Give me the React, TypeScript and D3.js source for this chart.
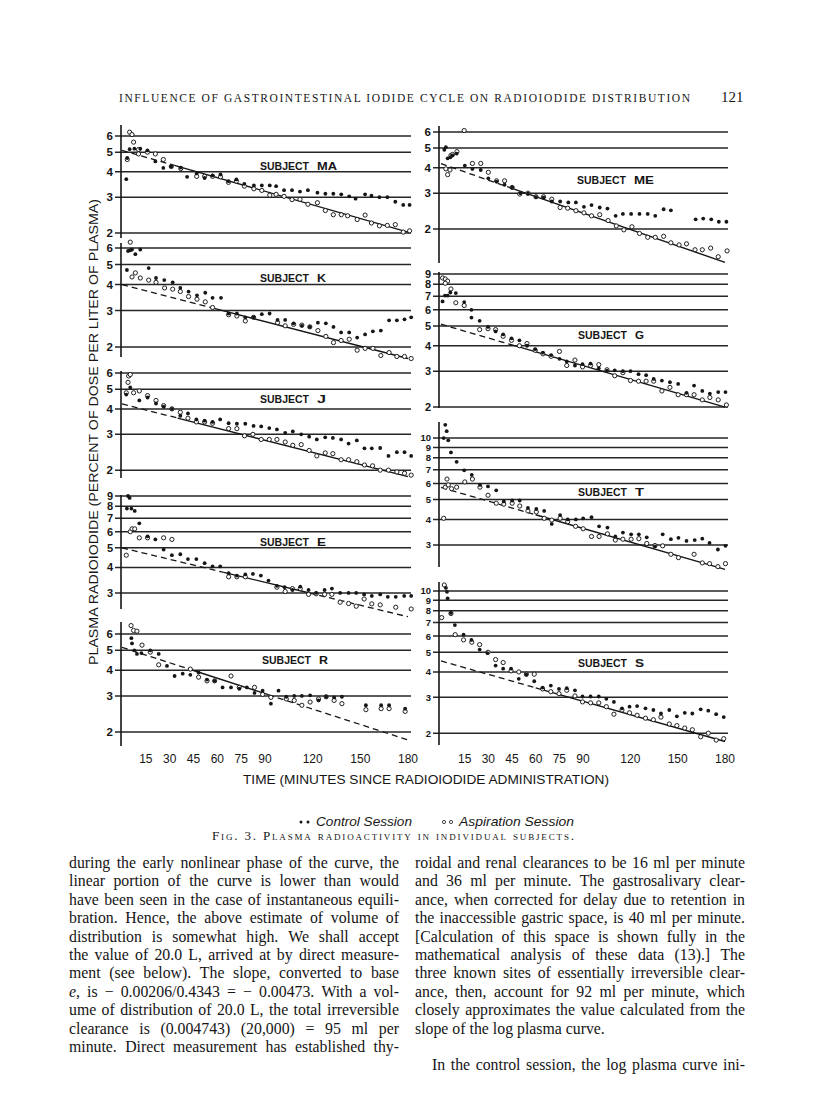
import React, { useEffect, useRef } from "react";
import * as d3 from "d3";

type Pt = [number, number];

// ---------- x axis ----------
const xTickValues = [15, 30, 45, 60, 75, 90, 120, 150, 180];

// ---------- Subject MA ----------
const MA_yDomain = [1.89, 6.8];
const MA_yTicks = [2, 3, 4, 5, 6];
const MA_control: Pt[] = [
  [2.7, 3.68], [3.3, 4.68], [4.8, 5.17], [7.8, 5.2], [11.5, 5.2], [16, 5.1], [21, 4.5], [26, 4.18], [31, 4.25], [37, 4.2],
  [41, 3.78], [47, 3.93], [52, 3.73], [57, 3.84], [62, 3.88], [67, 3.6], [72, 3.67], [77, 3.49], [83, 3.43], [88, 3.43],
  [93, 3.43], [97, 3.4], [102, 3.25], [107, 3.25], [112, 3.2], [117, 3.25], [123, 3.16], [128, 3.12], [133, 3.12], [138, 3.1],
  [143, 3.03], [147, 2.95], [153, 3.1], [157, 3.05], [162, 3.0], [167, 3.0], [172, 2.85], [177, 2.75], [181, 2.75],
];
const MA_aspiration: Pt[] = [
  [4.8, 6.27], [6.3, 6.1], [7.3, 5.6], [3.3, 4.6], [10.4, 5.15], [10.4, 4.9], [16, 5.0], [21, 4.9], [26, 4.6], [31, 4.25],
  [37, 4.15], [47, 3.8], [52, 3.8], [57, 3.8], [62, 3.78], [67, 3.55], [72, 3.6], [77, 3.4], [83, 3.3], [88, 3.24],
  [93, 3.07], [97, 3.1], [102, 3.03], [107, 2.92], [112, 2.93], [117, 2.77], [123, 2.82], [128, 2.58], [133, 2.46], [138, 2.46],
  [142, 2.43], [148, 2.33], [153, 2.45], [157, 2.24], [162, 2.17], [167, 2.18], [172, 2.2], [177, 2.02], [181, 2.05],
];
const MA_fit = { start: 5.1, end: 2.02, dashed: [[0, 33]], solid: [[33, 180]] };

// ---------- Subject K ----------
const K_yDomain = [1.79, 6.34];
const K_yTicks = [2, 3, 4, 5, 6];
const K_control: Pt[] = [
  [3.8, 5.8], [5.2, 5.85], [6.3, 5.9], [8.4, 5.6], [11.5, 5.9], [3.1, 4.7], [16.8, 4.8], [21.4, 4.3], [26.6, 4.2], [31.9, 4.1],
  [36.7, 3.85], [41.9, 3.7], [47.2, 3.55], [52.4, 3.65], [57, 3.45], [62.3, 3.45], [67.1, 2.9], [72.3, 2.9], [77.6, 2.78], [82.8, 2.78],
  [88, 2.88], [92.9, 2.9], [97.9, 2.7], [102.7, 2.7], [108, 2.6], [113.2, 2.53], [118.2, 2.5], [123.3, 2.62], [128.3, 2.6], [133.1, 2.5],
  [137.9, 2.35], [143, 2.35], [148, 2.22], [153, 2.3], [157.9, 2.38], [162.9, 2.4], [168.1, 2.69], [173, 2.69], [177.8, 2.72], [182, 2.78],
];
const K_aspiration: Pt[] = [
  [5.2, 6.4], [6.3, 4.35], [8.4, 4.55], [11.5, 4.3], [16.8, 4.2], [21.4, 4.1], [26.8, 3.85], [31.9, 3.8], [36.7, 3.7], [41.9, 3.5],
  [47.2, 3.4], [52.4, 3.3], [57, 3.1], [67.1, 2.86], [72.3, 2.82], [77.6, 2.67], [82.8, 2.78], [97.9, 2.62], [102.7, 2.53], [108, 2.57],
  [113.2, 2.55], [118.2, 2.5], [123.3, 2.4], [128.3, 2.25], [133.1, 2.1], [137.9, 2.15], [143, 2.18], [148, 1.93], [153, 1.97], [157.9, 1.97],
  [162.9, 1.82], [168.1, 1.88], [173, 1.8], [177.8, 1.8], [182, 1.76],
];
const K_fit = { start: 4.0, end: 1.76, dashed: [[0, 55]], solid: [[55, 180]] };

// ---------- Subject J ----------
const J_yDomain = [1.83, 6.14];
const J_yTicks = [2, 3, 4, 5, 6];
const J_control: Pt[] = [
  [2.7, 4.7], [5.2, 5.1], [10.9, 4.4], [16.1, 4.55], [21.4, 4.25], [26.2, 4.1], [31.4, 4.0], [36.7, 3.7], [41.5, 3.8], [46.8, 3.55],
  [52, 3.5], [57, 3.45], [61.8, 3.55], [67.1, 3.4], [72.3, 3.38], [77.6, 3.38], [82.8, 3.3], [87.6, 3.28], [92.7, 3.22], [97.5, 3.17],
  [102.7, 3.05], [107.5, 3.1], [112.8, 3.0], [117.8, 2.92], [122.6, 2.83], [127.9, 2.9], [132.7, 2.88], [137.9, 2.83], [142.6, 2.7], [147.8, 2.8],
  [152.6, 2.56], [157.2, 2.56], [162.5, 2.57], [167.7, 2.35], [173, 2.45], [177.8, 2.45], [182, 2.35],
];
const J_aspiration: Pt[] = [
  [4.2, 5.8], [5.2, 5.9], [3.8, 5.4], [2.7, 4.8], [7.3, 4.8], [10.9, 4.9], [16.1, 4.65], [21.4, 4.4], [26.2, 4.15], [31.4, 4.0],
  [36.7, 3.85], [41.5, 3.6], [46.8, 3.45], [52, 3.45], [57, 3.4], [67.1, 3.2], [72.3, 3.2], [77.1, 2.95], [82.4, 3.0], [87.6, 2.83],
  [92.7, 2.83], [97.5, 2.83], [102.7, 2.75], [107.5, 2.65], [112.8, 2.67], [117.8, 2.5], [122.6, 2.35], [127.9, 2.43], [132.7, 2.41], [137.9, 2.25],
  [142.6, 2.25], [147.8, 2.2], [152.6, 2.12], [157.7, 2.1], [162.5, 2.0], [167.7, 2.0], [173, 1.96], [177.8, 1.93], [182, 1.89],
];
const J_fit = { start: 4.23, end: 1.86, dashed: [[0, 35]], solid: [[35, 180]] };

// ---------- Subject E ----------
const E_yDomain = [2.5, 9.1];
const E_yTicks = [3, 4, 5, 6, 7, 8, 9];
const E_control: Pt[] = [
  [3.8, 9.0], [4.8, 8.8], [3.1, 7.8], [5.9, 7.8], [8, 7.6], [10.9, 6.6], [16.1, 5.7], [21, 5.5], [26.2, 4.9], [31.4, 4.6],
  [36.7, 4.65], [41.5, 4.4], [46.8, 4.4], [52, 4.2], [57, 4.05], [61.8, 4.05], [67.1, 3.75], [72.3, 3.65], [77.6, 3.7], [82.4, 3.72],
  [87.4, 3.65], [92.2, 3.45], [97.5, 3.25], [102.3, 3.2], [107.3, 3.1], [112.2, 3.22], [117.4, 3.1], [122.2, 3.0], [127.5, 3.1], [132.1, 3.15],
  [137.3, 3.0], [142.6, 3.0], [147.4, 3.0], [152.4, 2.95], [157.2, 2.9], [162.5, 2.95], [167.3, 2.87], [172.3, 2.87], [177.6, 2.9], [182, 2.9],
];
const E_aspiration: Pt[] = [
  [2.7, 4.6], [5.2, 6.0], [6.3, 6.2], [8, 6.2], [10.9, 5.6], [16.1, 5.6], [26.2, 5.6], [31.4, 5.5], [67.1, 3.6], [72.3, 3.6],
  [77.6, 3.6], [97.5, 3.2], [102.7, 3.05], [107.3, 3.15], [112.2, 3.15], [117.4, 2.95], [122.2, 2.97], [127.5, 2.95], [132.1, 2.95], [137.3, 2.7],
  [142.6, 2.66], [147.4, 2.58], [152.4, 2.8], [157.2, 2.65], [162.5, 2.62], [172.3, 2.55], [182, 2.5],
];
const E_fit = { start: 5.0, end: 2.29, dashed: [[0, 64], [118, 180]], solid: [[64, 118]] };

// ---------- Subject R ----------
const R_yDomain = [1.71, 6.87];
const R_yTicks = [2, 3, 4, 5, 6];
const R_control: Pt[] = [
  [5.9, 5.73], [6.3, 5.4], [7.8, 5.0], [9.4, 4.8], [12.2, 4.85], [17.8, 5.0], [23.1, 4.8], [28.3, 4.2], [33.1, 3.75], [38.2, 3.85],
  [43, 3.8], [48.2, 3.9], [53.5, 3.6], [58.3, 3.55], [63.3, 3.3], [68.6, 3.3], [73.8, 3.25], [78.6, 3.3], [83.4, 3.1], [88.5, 3.18],
  [93.7, 2.75], [98.5, 3.18], [103.4, 2.97], [108.4, 3.0], [113.2, 3.0], [118.4, 3.02], [123.7, 2.85], [128.5, 2.97], [133.5, 2.95], [138.4, 2.97],
  [153.5, 2.7], [163.1, 2.7], [168.1, 2.7], [178.2, 2.6],
];
const R_aspiration: Pt[] = [
  [5.7, 6.6], [7.3, 6.25], [9.4, 6.2], [12.6, 5.3], [17.8, 4.9], [23.1, 4.25], [43, 4.05], [48.2, 3.7], [53.5, 3.55], [58.3, 3.55],
  [68.6, 3.75], [73.8, 3.3], [83.4, 3.3], [88.5, 3.05], [93.7, 2.95], [103.4, 2.9], [108.4, 2.85], [113.2, 2.7], [118.4, 2.8], [123.7, 2.9],
  [128.5, 2.97], [133.5, 2.85], [138.4, 2.75], [153.5, 2.57], [163.1, 2.6], [168.1, 2.6], [178.2, 2.52],
];
const R_fit = { start: 5.17, end: 1.83, dashed: [[0, 45], [92, 180]], solid: [[45, 92]] };

// ---------- Subject ME ----------
const ME_yDomain = [1.36, 6.42];
const ME_yTicks = [2, 3, 4, 5, 6];
const ME_control: Pt[] = [
  [2.1, 4.9], [3.1, 5.05], [4.2, 4.45], [5.9, 4.5], [7.3, 4.6], [9.9, 4.7], [15.1, 4.1], [19.9, 3.95], [25.2, 3.9], [30, 3.55],
  [35.2, 3.42], [40.3, 3.3], [45.1, 3.2], [50.3, 3.0], [55.1, 2.98], [60.2, 2.87], [65, 2.85], [70.2, 2.73], [75.5, 2.73], [80.7, 2.7],
  [85.5, 2.7], [90.6, 2.57], [95.4, 2.62], [100.6, 2.55], [105.5, 2.52], [110.7, 2.32], [115.3, 2.37], [120.5, 2.37], [125.8, 2.37], [131, 2.37],
  [135.8, 2.32], [141.1, 2.5], [145.7, 2.47], [161.4, 2.23], [166.2, 2.25], [171.3, 2.23], [176.1, 2.17], [180.9, 2.17],
];
const ME_aspiration: Pt[] = [
  [14.7, 6.1], [3.1, 3.95], [4.2, 3.7], [5.7, 3.9], [6.3, 4.6], [7.3, 4.65], [10.1, 4.8], [19.9, 4.2], [25.2, 4.2], [30, 3.8],
  [35.2, 3.45], [40.3, 3.45], [45.1, 3.2], [49.9, 2.97], [55.1, 3.0], [60.2, 2.88], [65, 2.88], [70.2, 2.8], [75.5, 2.55], [80.3, 2.53],
  [85.5, 2.46], [90.6, 2.4], [95.4, 2.32], [100.6, 2.35], [105.9, 2.2], [111.1, 2.07], [115.9, 1.98], [121, 2.05], [125.8, 1.9], [131, 1.82],
  [135.8, 1.82], [141.1, 1.84], [145.7, 1.71], [150.9, 1.67], [155.6, 1.69], [161, 1.58], [165.6, 1.58], [170.9, 1.61], [175.7, 1.46], [181.3, 1.56],
];
const ME_fit = { start: 4.19, end: 1.37, dashed: [[0, 45]], solid: [[45, 180]] };

// ---------- Subject G ----------
const G_yDomain = [1.98, 9.2];
const G_yTicks = [2, 3, 4, 5, 6, 7, 8, 9];
const G_control: Pt[] = [
  [1, 6.6], [2.5, 7.05], [4.2, 7.05], [5.9, 7.3], [9.4, 7.25], [14.7, 6.55], [19.3, 6.0], [19.3, 5.5], [24.5, 5.3], [29.8, 4.95],
  [34.6, 4.7], [39.4, 4.55], [44.7, 4.35], [49.7, 4.25], [54.5, 4.0], [59.7, 3.85], [64.6, 3.7], [69.8, 3.6], [75.1, 3.45], [79.7, 3.35],
  [84.9, 3.2], [89.7, 3.25], [94.8, 3.27], [100, 3.1], [105.2, 3.02], [110.1, 3.03], [115.3, 3.0], [120.1, 3.0], [125.2, 2.9], [130, 2.87],
  [134.8, 2.75], [140, 2.7], [145.1, 2.65], [150.3, 2.6], [155.6, 2.35], [160.4, 2.55], [165.6, 2.4], [170.4, 2.33], [175.7, 2.37], [180.3, 2.37],
];
const G_aspiration: Pt[] = [
  [1, 8.6], [2.7, 8.5], [4.2, 8.3], [2.7, 8.1], [6.3, 7.6], [9.4, 6.5], [14.7, 6.3], [24.5, 4.8], [29.8, 4.85], [34.6, 4.8],
  [39.4, 4.45], [44.7, 4.25], [49.7, 4.0], [54.5, 4.1], [59.7, 3.8], [64.6, 3.65], [69.8, 3.55], [75.1, 3.75], [79.7, 3.2], [84.9, 3.4],
  [89.7, 3.15], [94.8, 3.2], [100, 3.23], [105.2, 3.05], [110.1, 2.85], [115.3, 2.95], [120.1, 2.7], [125.2, 2.68], [130, 2.68], [134.8, 2.68],
  [140, 2.4], [145.1, 2.5], [150.3, 2.3], [155.6, 2.3], [160.4, 2.3], [165.6, 2.17], [170.4, 2.23], [175.7, 2.17], [180.9, 2.05],
];
const G_fit = { start: 5.1, end: 2.0, dashed: [[0, 45]], solid: [[45, 180]] };

// ---------- Subject T ----------
const T_yDomain = [2.34, 11.98];
const T_yTicks = [3, 4, 5, 6, 7, 8, 9, 10];
const T_control: Pt[] = [
  [2.7, 11.6], [3.6, 10.8], [1.7, 10.0], [4.6, 9.75], [6.3, 8.5], [9.9, 7.65], [14.7, 6.95], [19.5, 6.6], [24.7, 5.9], [29.8, 5.8],
  [35, 5.55], [39.8, 4.9], [45.1, 4.95], [49.9, 4.95], [55.1, 4.55], [60.4, 4.5], [65.4, 4.4], [70.2, 3.8], [75.5, 4.2], [80.3, 4.0],
  [85.5, 4.0], [90.1, 4.05], [95.4, 4.1], [100.2, 3.7], [105.5, 3.65], [110.5, 3.3], [115.3, 3.45], [120.5, 3.38], [125.4, 3.38], [130.4, 3.27],
  [135.6, 2.95], [140.5, 3.38], [145.7, 3.2], [150.5, 3.25], [155.6, 3.14], [160.8, 3.17], [165.6, 3.22], [170.2, 3.07], [175.5, 2.85], [180.3, 2.97],
];
const T_aspiration: Pt[] = [
  [1.7, 4.05], [3.8, 6.3], [2.7, 5.75], [4.6, 5.9], [6.7, 5.65], [9.9, 5.75], [15.1, 6.1], [19.9, 6.3], [24.7, 5.75], [29.8, 5.25],
  [35, 4.8], [39.8, 4.75], [45.1, 4.8], [49.9, 4.65], [55.1, 4.4], [60.4, 4.35], [65.4, 4.05], [70.2, 3.97], [75.5, 4.05], [80.3, 3.9],
  [85.3, 3.7], [90.1, 3.6], [95.4, 3.3], [100.2, 3.3], [105.5, 3.4], [110.5, 3.17], [115.3, 3.2], [120.5, 3.2], [125.4, 3.22], [130.4, 3.05],
  [135.6, 2.98], [140.5, 2.97], [145.7, 2.7], [150.5, 2.6], [160.4, 2.7], [165.6, 2.45], [170.2, 2.43], [175.5, 2.35], [180.3, 2.43],
];
const T_fit = { start: 5.73, end: 2.28, dashed: [[0, 60]], solid: [[60, 180]] };

// ---------- Subject S ----------
const S_yDomain = [1.75, 11.07];
const S_yTicks = [2, 3, 4, 5, 6, 7, 8, 9, 10];
const S_control: Pt[] = [
  [3.1, 10.35], [3.8, 9.9], [4.2, 9.2], [6.3, 7.8], [8.8, 6.8], [14.3, 6.1], [19.3, 5.75], [24.5, 5.15], [29.4, 4.95], [34.6, 4.3],
  [39.4, 4.15], [44.4, 4.15], [49.3, 3.7], [54.1, 3.88], [59.1, 3.6], [64.4, 3.35], [69.6, 3.43], [74.8, 3.3], [79.7, 3.33], [84.9, 3.25],
  [89.7, 3.03], [94.8, 3.03], [100, 3.03], [104.8, 2.95], [109.6, 2.85], [114.7, 2.65], [119.5, 2.7], [124.3, 2.72], [129.6, 2.65], [134.6, 2.6],
  [139.4, 2.5], [144.7, 2.6], [149.5, 2.42], [154.5, 2.52], [159.3, 2.5], [164.6, 2.62], [169.4, 2.58], [174.4, 2.48], [179.2, 2.4],
];
const S_aspiration: Pt[] = [
  [2.1, 10.7], [0.4, 7.4], [6.3, 7.75], [9, 6.1], [14.3, 5.75], [19.5, 5.6], [24.5, 5.45], [29.8, 5.0], [34.6, 4.6], [39.4, 4.45],
  [44.4, 4.05], [49.3, 4.0], [54.1, 3.9], [59.1, 3.9], [64.4, 3.3], [69.6, 3.2], [74.8, 3.13], [79.7, 3.25], [84.9, 3.05], [89.7, 2.85],
  [94.8, 2.82], [100, 2.82], [104.8, 2.7], [109.6, 2.48], [114.7, 2.6], [119.5, 2.52], [124.3, 2.45], [129.6, 2.37], [134.6, 2.33], [139.4, 2.4],
  [144.7, 2.22], [149.5, 2.18], [154.5, 2.12], [159.3, 2.08], [164.6, 1.92], [169.4, 2.0], [174.4, 1.85], [179.2, 1.88],
];
const S_fit = { start: 4.53, end: 1.82, dashed: [[0, 60]], solid: [[60, 180]] };

// ---------- text ----------
const headerText = "INFLUENCE OF GASTROINTESTINAL IODIDE CYCLE ON RADIOIODIDE DISTRIBUTION";
const pageNumber = "121";
const yTitle = "PLASMA RADIOIODIDE (PERCENT OF DOSE PER LITER OF PLASMA)";
const xTitle = "TIME (MINUTES SINCE RADIOIODIDE ADMINISTRATION)";
const legendLabels = ["Control Session", "Aspiration Session"];
const captionText = "Fig. 3.  Plasma radioactivity in individual subjects.";

const bodyLeft = [
  "during the early nonlinear phase of the curve, the",
  "linear portion of the curve is lower than would",
  "have been seen in the case of instantaneous equili-",
  "bration. Hence, the above estimate of volume of",
  "distribution is somewhat high. We shall accept",
  "the value of 20.0 L, arrived at by direct measure-",
  "ment (see below). The slope, converted to base",
  "_e, is − 0.00206/0.4343 = − 0.00473. With a vol-",
  "ume of distribution of 20.0 L, the total irreversible",
  "clearance is (0.004743) (20,000) = 95 ml per",
  "minute. Direct measurement has established thy-",
];
const bodyRight = [
  "roidal and renal clearances to be 16 ml per minute",
  "and 36 ml per minute. The gastrosalivary clear-",
  "ance, when corrected for delay due to retention in",
  "the inaccessible gastric space, is 40 ml per minute.",
  "[Calculation of this space is shown fully in the",
  "mathematical analysis of these data (13).] The",
  "three known sites of essentially irreversible clear-",
  "ance, then, account for 92 ml per minute, which",
  "closely approximates the value calculated from the",
  "slope of the log plasma curve.",
  "",
  "In the control session, the log plasma curve ini-",
];
const bodyRightRagged = [9];
const bodyRightIndent = [11];

// ---------- layout ----------
const xLeft = d3.scaleLinear().domain([0, 180]).range([122, 408]);
const xRight = d3.scaleLinear().domain([0, 180]).range([441, 725]);
const axisXs = [121, 439];

const panels = [
  { id: "MA", col: 0, top: 125, bottom: 238, domain: MA_yDomain, ticks: MA_yTicks, control: MA_control, aspiration: MA_aspiration, fit: MA_fit, label: [260, 166], tickFont: 11.5 },
  { id: "K", col: 0, top: 243, bottom: 357, domain: K_yDomain, ticks: K_yTicks, control: K_control, aspiration: K_aspiration, fit: K_fit, label: [260, 278], tickFont: 11.5 },
  { id: "J", col: 0, top: 371, bottom: 478, domain: J_yDomain, ticks: J_yTicks, control: J_control, aspiration: J_aspiration, fit: J_fit, label: [260, 399], tickFont: 11.5 },
  { id: "E", col: 0, top: 495, bottom: 609, domain: E_yDomain, ticks: E_yTicks, control: E_control, aspiration: E_aspiration, fit: E_fit, label: [260, 542], tickFont: 11 },
  { id: "R", col: 0, top: 622, bottom: 746, domain: R_yDomain, ticks: R_yTicks, control: R_control, aspiration: R_aspiration, fit: R_fit, label: [262, 660], tickFont: 11.5 },
  { id: "ME", col: 1, top: 126, bottom: 263, domain: ME_yDomain, ticks: ME_yTicks, control: ME_control, aspiration: ME_aspiration, fit: ME_fit, label: [577, 180], tickFont: 11.5 },
  { id: "G", col: 1, top: 272, bottom: 408, domain: G_yDomain, ticks: G_yTicks, control: G_control, aspiration: G_aspiration, fit: G_fit, label: [578, 335], tickFont: 11 },
  { id: "T", col: 1, top: 422, bottom: 567, domain: T_yDomain, ticks: T_yTicks, control: T_control, aspiration: T_aspiration, fit: T_fit, label: [578, 492], tickFont: 9.5 },
  { id: "S", col: 1, top: 582, bottom: 745, domain: S_yDomain, ticks: S_yTicks, control: S_control, aspiration: S_aspiration, fit: S_fit, label: [578, 663], tickFont: 9.5 },
];

const INK = "#161616";
const SANS = "'Liberation Sans', Arial, sans-serif";
const SERIF = "'Liberation Serif', 'Times New Roman', serif";

function Panel({ p }: { p: any }) {
  const x = p.col === 0 ? xLeft : xRight;
  const axisX = axisXs[p.col];
  const y = d3.scaleLog().domain(p.domain).range([p.bottom, p.top]);
  const gx0 = axisX - 6;
  const gx1 = x.range()[1] + 3;
  const fitV = (t: number) => p.fit.start * Math.pow(p.fit.end / p.fit.start, t / 180);
  const line = d3.line<number>().x((t) => x(t)).y((t) => y(fitV(t)));
  const idWidth = p.id.length === 1 ? 9 : 20;
  return (
    <g>
      {p.ticks.map((tk: number) => (
        <line key={"g" + tk} x1={gx0} x2={gx1} y1={y(tk)} y2={y(tk)} stroke="#262626" strokeWidth={1.5} />
      ))}
      {p.ticks.map((tk: number) => (
        <text key={"t" + tk} x={axisX - 8} y={y(tk)} dy="0.36em" textAnchor="end" fontFamily={SANS} fontSize={p.tickFont} fontWeight="bold" fill={INK}>
          {tk}
        </text>
      ))}
      <line x1={axisX} x2={axisX} y1={p.top} y2={p.bottom} stroke={INK} strokeWidth={1.6} />
      {p.fit.dashed.map((s: number[], i: number) => (
        <path key={"d" + i} d={line(s) || ""} fill="none" stroke={INK} strokeWidth={1.3} strokeDasharray="6,4" />
      ))}
      {p.fit.solid.map((s: number[], i: number) => (
        <path key={"s" + i} d={line(s) || ""} fill="none" stroke={INK} strokeWidth={1.4} />
      ))}
      {p.aspiration.map((d: Pt, i: number) => (
        <circle key={"a" + i} cx={x(d[0])} cy={y(d[1])} r={2.1} fill="white" stroke={INK} strokeWidth={0.95} />
      ))}
      {p.control.map((d: Pt, i: number) => (
        <circle key={"c" + i} cx={x(d[0])} cy={y(d[1])} r={1.9} fill={INK} />
      ))}
      <text x={p.label[0]} y={p.label[1]} dy="0.36em" fontFamily={SANS} fontSize={10.5} fontWeight="bold" fill={INK} textLength={49} lengthAdjust="spacingAndGlyphs">
        SUBJECT
      </text>
      <text x={p.label[0] + 57} y={p.label[1]} dy="0.36em" fontFamily={SANS} fontSize={10.5} fontWeight="bold" fill={INK} textLength={idWidth} lengthAdjust="spacingAndGlyphs">
        {p.id}
      </text>
    </g>
  );
}

export default function App() {
  const bodyRef = useRef<SVGGElement>(null);

  useEffect(() => {
    const g = d3.select(bodyRef.current);
    g.selectAll("*").remove();
    const cols = [
      { x: 69, lines: bodyLeft, ragged: [] as number[], indent: [] as number[] },
      { x: 415, lines: bodyRight, ragged: bodyRightRagged, indent: bodyRightIndent },
    ];
    const width = 330;
    const baseSize = 15.8;
    const minGap = 3.2;
    cols.forEach((col) => {
      col.lines.forEach((ln, i) => {
        if (!ln) return;
        const yy = 868 + i * 18.4;
        const words = ln.split(" ").filter((w) => w.length > 0);
        const t = g
          .append("text")
          .attr("y", yy)
          .attr("font-family", SERIF)
          .attr("font-size", baseSize)
          .attr("fill", "#141414");
        const spans = words.map((w) => {
          const italic = w.startsWith("_");
          const s = t.append("tspan").attr("x", 0).text(italic ? w.slice(1) : w);
          if (italic) s.attr("font-style", "italic");
          return s;
        });
        const ind = col.indent.includes(i) ? 17 : 0;
        const avail = width - ind;
        const justify = !col.ragged.includes(i);
        let widths = spans.map((s) => (s.node() as SVGTSpanElement).getComputedTextLength());
        let sum = d3.sum(widths);
        if (justify && words.length > 1 && (avail - sum) / (words.length - 1) < minGap) {
          const fs = baseSize * (avail - minGap * (words.length - 1)) / sum;
          t.attr("font-size", fs);
          widths = spans.map((s) => (s.node() as SVGTSpanElement).getComputedTextLength());
          sum = d3.sum(widths);
        }
        const gap = justify && words.length > 1 ? (avail - sum) / (words.length - 1) : 4;
        let cx = col.x + ind;
        spans.forEach((s, k) => {
          s.attr("x", cx);
          cx += widths[k] + gap;
        });
      });
    });
  }, []);

  return (
    <svg width={816} height={1109} style={{ position: "absolute", left: 0, top: 0, background: "white" }}>
      <rect x={0} y={0} width={816} height={1109} fill="white" />
      {/* header */}
      <text x={119} y={102} fontFamily={SERIF} fontSize={11.5} fill={INK} textLength={571} lengthAdjust="spacing">
        {headerText}
      </text>
      <text x={721} y={102} fontFamily={SERIF} fontSize={15} fill={INK}>
        {pageNumber}
      </text>

      {panels.map((p) => (
        <Panel key={p.id} p={p} />
      ))}

      {/* x tick labels */}
      {[xLeft, xRight].map((x, ci) =>
        xTickValues.map((tk) => (
          <text key={ci + "-" + tk} x={x(tk)} y={763} textAnchor="middle" fontFamily={SANS} fontSize={12} fill={INK}>
            {tk}
          </text>
        ))
      )}

      {/* y title */}
      <text
        transform="translate(98,432) rotate(-90)"
        textAnchor="middle"
        fontFamily={SANS}
        fontSize={13}
        fill={INK}
        textLength={466}
        lengthAdjust="spacingAndGlyphs"
      >
        {yTitle}
      </text>

      {/* x title */}
      <text x={243} y={784} fontFamily={SANS} fontSize={13.5} fill={INK} textLength={366} lengthAdjust="spacingAndGlyphs">
        {xTitle}
      </text>

      {/* legend */}
      <circle cx={301} cy={822} r={1.5} fill={INK} />
      <circle cx={308} cy={822} r={1.5} fill={INK} />
      <text x={316} y={826} fontFamily={SANS} fontStyle="italic" fontSize={13} fill={INK} textLength={96} lengthAdjust="spacingAndGlyphs">
        {legendLabels[0]}
      </text>
      <circle cx={444} cy={822} r={1.6} fill="white" stroke={INK} strokeWidth={0.8} />
      <circle cx={451} cy={822} r={1.6} fill="white" stroke={INK} strokeWidth={0.8} />
      <text x={459} y={826} fontFamily={SANS} fontStyle="italic" fontSize={13} fill={INK} textLength={115} lengthAdjust="spacingAndGlyphs">
        {legendLabels[1]}
      </text>

      {/* caption */}
      <text x={212} y={840} fontFamily={SERIF} fontSize={13} fill={INK} style={{ fontVariant: "small-caps" }} textLength={362} lengthAdjust="spacing">
        {captionText}
      </text>

      <g ref={bodyRef} />
    </svg>
  );
}
